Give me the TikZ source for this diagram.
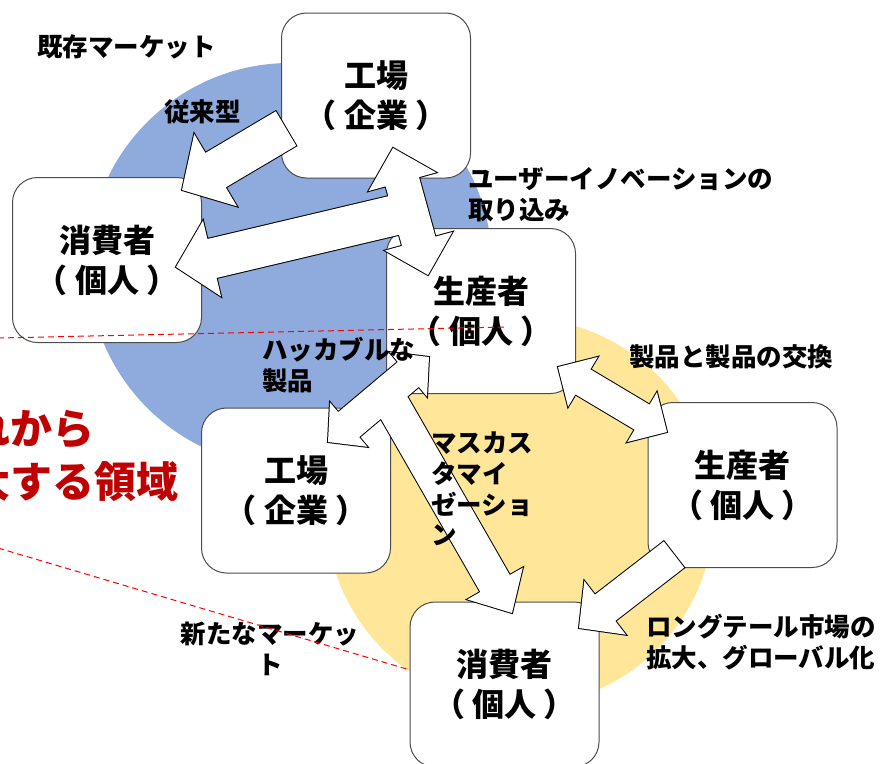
\documentclass[tikz,border=0pt]{standalone}
\usepackage{fontspec}
\setmainfont{Noto Sans CJK JP}
\usetikzlibrary{calc}
\definecolor{kizon}{HTML}{8FAADC}
\definecolor{shinki}{HTML}{FFE699}
\definecolor{aka}{HTML}{C00000}
\tikzset{
	box/.style={draw=black!70, fill=white, line width=1pt, rounded corners=25pt,
			minimum width=189pt, minimum height=165pt, align=center,
			font=\fontsize{32}{40}\selectfont\bfseries},
	lbl/.style={inner sep=0pt, align=left, font=\fontsize{25.5}{30.7}\selectfont\bfseries},
	arrowline/.style={draw=black, line width=2pt},
	arrowfill/.style={fill=white},
	border/.style={draw=red, dash pattern=on 6pt off 4pt, line width=1pt}
}
\newcommand\kakko[1]{\makebox[1em][l]{\hspace{-0.22em}（}#1\makebox[1em][l]{\hspace{0.22em}）}}
\newcommand\sarrow[6]{%
	\path ($(#3)!#6!(#2)$) coordinate (hb);
	\path[#1] ($(#2)!#4!90:(#3)$) -- ($(hb)!#4!-90:(#2)$) -- ($(hb)!#5!-90:(#2)$) -- (#3)
	-- ($(hb)!#5!90:(#2)$) -- ($(hb)!#4!90:(#2)$) -- ($(#2)!#4!-90:(#3)$) -- cycle;
}
\newcommand\darrow[6]{%
	\path ($(#2)!#6!(#3)$) coordinate (hb) ($(#3)!#6!(#2)$) coordinate (hc);
	\path[#1] (#2) -- ($(hb)!#5!90:(#3)$) -- ($(hb)!#4!90:(#3)$) -- ($(hc)!#4!-90:(#2)$)
	-- ($(hc)!#5!-90:(#2)$) -- (#3) -- ($(hc)!#5!90:(#2)$) -- ($(hc)!#4!90:(#2)$)
	-- ($(hb)!#4!-90:(#3)$) -- ($(hb)!#5!-90:(#3)$) -- cycle;
}

\begin{document}
\begin{tikzpicture}[x=1pt,y=-1pt]
	\clip (0,0) rectangle (880,763);
	\fill[kizon] (290,265) circle (202pt);
	\fill[shinki] (520,512) circle (194pt);

	\node[box] (fac1) at (376,95.5) {工場\\\kakko{企業}};
	\node[box] (con1) at (107,260) {消費者\\\kakko{個人}};
	\node[box] (pro1) at (481,311) {生産者\\\kakko{個人}};
	\node[box] (fac2) at (296,490.5) {工場\\\kakko{企業}};
	\node[box] (pro2) at (742.5,485) {生産者\\\kakko{個人}};
	\node[box] (con2) at (504.5,684.5) {消費者\\\kakko{個人}};

	\coordinate (old1) at (286,128.5);
	\coordinate (old2) at (182,190);
	\coordinate (sale1) at (400,214);
	\coordinate (sale2) at (176,267);
	\coordinate (user1) at (393,148);
	\coordinate (user2) at (428,275);
	\coordinate (mass1) at (388,397);
	\coordinate (mass2) at (512,613);
	\coordinate (hack1) at (328,442);
	\coordinate (hack2) at (429,357);
	\coordinate (swap1) at (558,367);
	\coordinate (swap2) at (667,432);
	\coordinate (tail1) at (674,554.5);
	\coordinate (tail2) at (579,628);
	\foreach \pass in {arrowline,arrowfill}{
		\sarrow{\pass}{old1}{old2}{20pt}{42pt}{39pt}
		\sarrow{\pass}{sale1}{sale2}{20pt}{39pt}{37pt}
		\darrow{\pass}{user1}{user2}{17.3pt}{35pt}{35pt}
		\sarrow{\pass}{mass1}{mass2}{17pt}{32pt}{34pt}
		\darrow{\pass}{hack1}{hack2}{16.3pt}{29pt}{27pt}
		\darrow{\pass}{swap1}{swap2}{14.6pt}{29pt}{29pt}
		\sarrow{\pass}{tail1}{tail2}{16.6pt}{34pt}{33pt}
	}

	\node[lbl, anchor=west] (kizon) at (37,47) {既存マーケット};
	\node[lbl, anchor=west] (jurai) at (164,112) {従来型};
	\node[lbl, anchor=west] (user) at (468,195) {ユーザーイノベーションの\\取り込み};
	\node[lbl, anchor=west] (swap) at (629,357) {製品と製品の交換};
	\node[lbl, anchor=west] (hack) at (262,365) {ハッカブルな\\製品};
	\node[lbl, anchor=west] (mass) at (431,489) {マスカス\\タマイ\\ゼーショ\\ン};
	\node[lbl, align=center] (new) at (270,649) {新たなマーケッ\\ト};
	\node[lbl, anchor=west] (long) at (646,642) {ロングテール市場の\\拡大、グローバル化};
	\node[inner sep=0pt, anchor=west, align=left, text=aka,
		font=\fontsize{42}{53}\selectfont\bfseries] (area) at (-74,456) {これから\\拡大する領域};

	\coordinate (cut1) at (-2,338);
	\coordinate (cut2) at (-2,548);
	\coordinate (end1) at (505,327);
	\coordinate (end2) at (410,670);
	\draw[border] (cut1) -- (end1);
	\draw[border] (cut2) -- (end2);
\end{tikzpicture}
\end{document}
